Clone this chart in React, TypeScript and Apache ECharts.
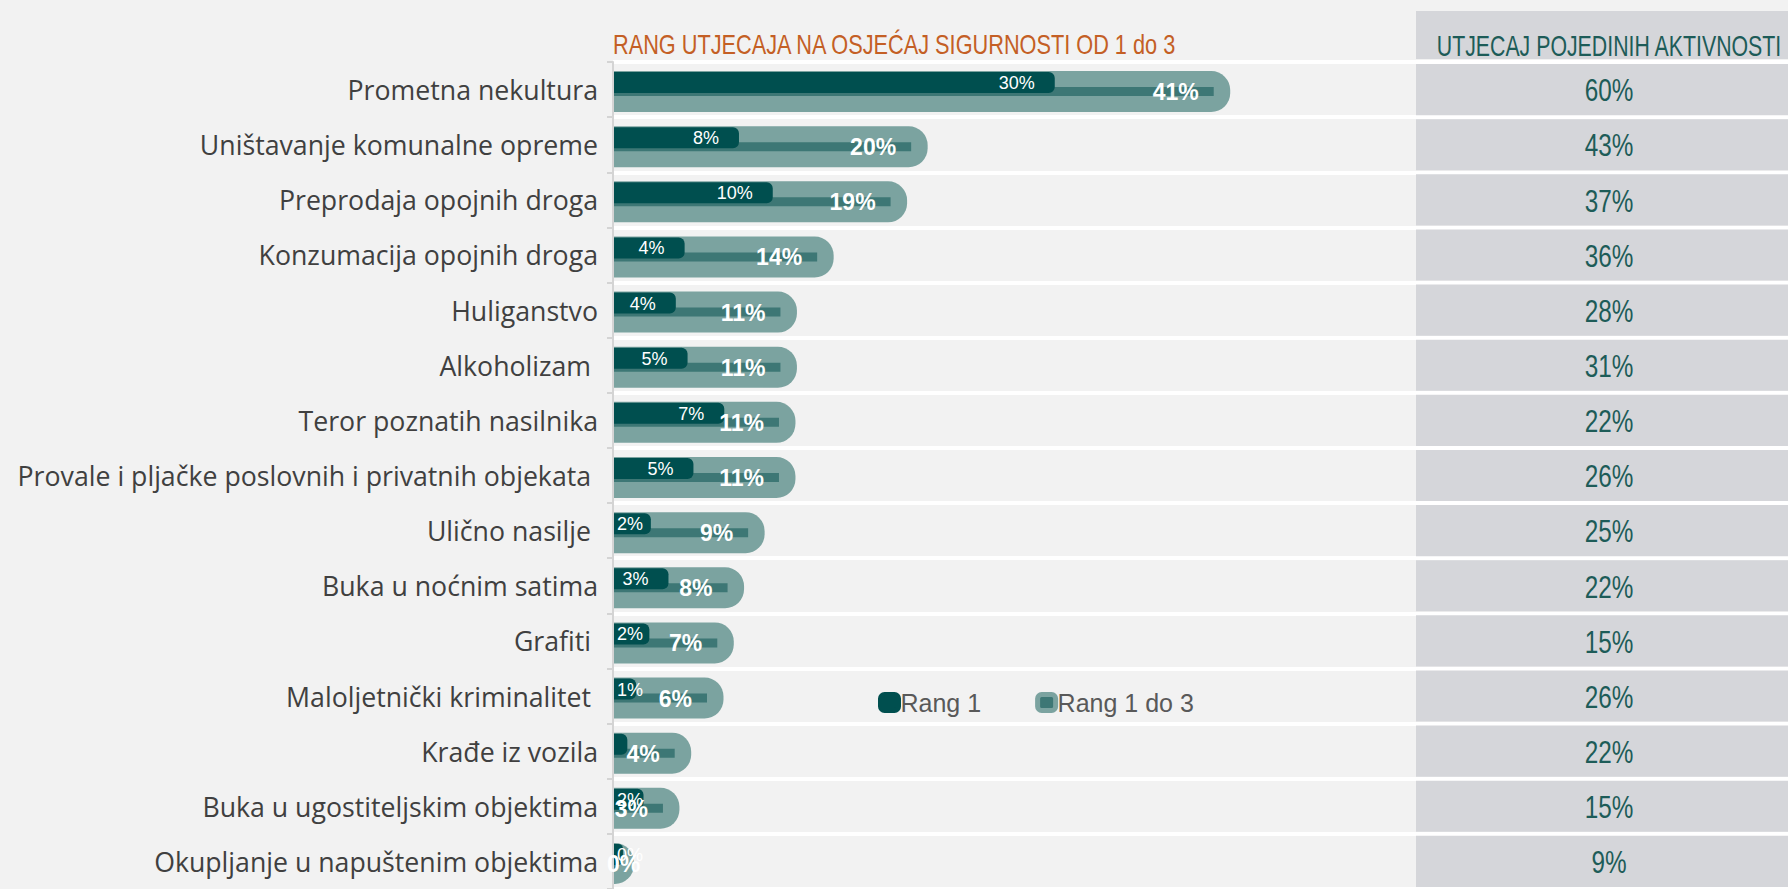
import React, { useEffect, useRef } from 'react';
import * as echarts from 'echarts';

// ---- data ----
const categories = [
  'Prometna nekultura',
  'Uništavanje komunalne opreme',
  'Preprodaja opojnih droga',
  'Konzumacija opojnih droga',
  'Huliganstvo',
  'Alkoholizam ',
  'Teror poznatih nasilnika',
  'Provale i pljačke poslovnih i privatnih objekata ',
  'Ulično nasilje ',
  'Buka u noćnim satima',
  'Grafiti ',
  'Maloljetnički kriminalitet ',
  'Krađe iz vozila',
  'Buka u ugostiteljskim objektima',
  'Okupljanje u napuštenim objektima',
];
// "Rang 1" share (%)
const rang1 = [29.6, 8.1, 10.4, 4.4, 3.8, 4.6, 7.1, 5.0, 2.1, 3.3, 2.0, 1.1, 0.5, 1.6, 0.2];
// "Rang 1 do 3" share (%)
const rang13 = [40.9, 20.3, 18.9, 13.9, 11.4, 11.4, 11.3, 11.3, 9.2, 7.8, 7.1, 6.4, 4.2, 3.4, 0.3];
// "Utjecaj pojedinih aktivnosti" (%)
const utjecaj = [60, 43, 37, 36, 28, 31, 22, 26, 25, 22, 15, 26, 22, 15, 9];
// categories whose Rang 1 label is not shown in the original
const rang1HiddenLabels = ['Krađe iz vozila'];

const titleLeft = 'RANG UTJECAJA NA OSJEĆAJ SIGURNOSTI OD 1 do 3';
const titleRight = 'UTJECAJ POJEDINIH AKTIVNOSTI';

// ---- styles ----
const DARK = '#004f4f';
const MID = '#3d7775';
const LIGHT = '#7ba3a0';
const BOX = '#d5d6da';
const BG = '#f2f2f2';
const ARIAL = "'Liberation Sans', Arial, sans-serif";
const LABEL_FONT = "'Open Sans', 'Noto Sans', sans-serif";

let measureCtx: CanvasRenderingContext2D | null = null;
function textWidth(t: string, font: string): number {
  if (!measureCtx) measureCtx = document.createElement('canvas').getContext('2d');
  if (!measureCtx) return t.length * 10;
  measureCtx.font = font;
  return measureCtx.measureText(t).width;
}

function buildOption(): any {
  const rowCount = categories.length;
  const bandH = 55.5;
  const gridTop = 62;
  const gridHeight = rowCount * bandH;

  return {
    animation: false,
    backgroundColor: BG,
    grid: [
      { left: 613, right: 0, top: gridTop, height: gridHeight },
      { left: 1416, right: 0, top: gridTop, height: gridHeight },
    ],
    xAxis: [
      { type: 'value', gridIndex: 0, min: 0, max: 80, show: false },
      { type: 'value', gridIndex: 1, min: 0, max: 1, show: false },
    ],
    yAxis: [
      {
        type: 'category',
        gridIndex: 0,
        inverse: true,
        data: categories,
        axisLine: { show: true, lineStyle: { color: '#d4d4d4', width: 2 } },
        axisTick: { show: true, length: 6, lineStyle: { color: '#d4d4d4', width: 2 } },
        splitLine: { show: true, lineStyle: { color: '#ffffff', width: 4 } },
        axisLabel: {
          margin: 15,
          fontSize: 26.7,
          color: '#404040',
          fontFamily: LABEL_FONT,
          padding: [8, 0, 0, 0],
        },
      },
      {
        type: 'category',
        gridIndex: 1,
        inverse: true,
        data: categories,
        show: false,
      },
    ],
    legend: {
      left: 878,
      top: 690,
      padding: 0,
      itemWidth: 18,
      itemHeight: 16,
      itemGap: 54,
      icon: 'roundRect',
      textStyle: { fontSize: 25, lineHeight: 25, color: '#595959', fontFamily: ARIAL, padding: [0, 0, 0, -3] },
      data: [
        { name: 'Rang 1', icon: 'roundRect', itemStyle: { color: DARK, borderColor: DARK, borderWidth: 5 } },
        { name: 'Rang 1 do 3', icon: 'roundRect', itemStyle: { color: MID, borderColor: LIGHT, borderWidth: 5 } },
      ],
    },
    graphic: [
      {
        type: 'text',
        x: 613,
        y: 45,
        scaleX: 0.79,
        style: {
          text: titleLeft,
          fill: '#c45f25',
          fontSize: 27.5,
          fontFamily: ARIAL,
          align: 'left',
          verticalAlign: 'middle',
        },
      },
      {
        type: 'rect',
        shape: { x: 1416, y: 11, width: 372, height: 48 },
        style: { fill: BOX },
      },
      {
        type: 'text',
        x: 1609,
        y: 46,
        scaleX: 0.735,
        style: {
          text: titleRight,
          fill: '#1d5c58',
          fontSize: 29,
          fontFamily: ARIAL,
          align: 'center',
          verticalAlign: 'middle',
        },
      },
    ],
    series: [
      {
        name: 'Rang 1 do 3',
        type: 'custom',
        xAxisIndex: 0,
        yAxisIndex: 0,
        z: 2,
        itemStyle: { color: LIGHT },
        encode: { x: 0, y: 1 },
        data: rang13.map((v, i) => [v, i]),
        renderItem: (params: any, api: any) => {
          const v = api.value(0);
          const i = api.value(1);
          const o = api.coord([0, i]);
          const e = api.coord([v, i]);
          const cy = o[1] + 2;
          const x0 = o[0] + 1;
          const xe = e[0];
          return {
            type: 'group',
            children: [
              {
                type: 'rect',
                shape: { x: x0, y: cy - 20.5, width: xe + 16.5 - x0, height: 41, r: [0, 19, 19, 0] },
                style: { fill: LIGHT },
              },
              {
                type: 'rect',
                shape: { x: x0, y: cy - 4.5, width: Math.max(0, xe - x0), height: 9 },
                style: { fill: MID },
              },
            ],
          };
        },
      },
      {
        name: 'Rang 1',
        type: 'custom',
        xAxisIndex: 0,
        yAxisIndex: 0,
        z: 3,
        itemStyle: { color: DARK },
        encode: { x: 0, y: 1 },
        data: rang1.map((v, i) => [v, i]),
        renderItem: (params: any, api: any) => {
          const v = api.value(0);
          const i = api.value(1);
          const o = api.coord([0, i]);
          const e = api.coord([v, i]);
          const cy = o[1] + 2;
          const x0 = o[0] + 1;
          const darkEnd = e[0] + 7;
          const w = Math.max(0, darkEnd - x0);
          const rr = Math.min(6, w / 2);
          const hidden = rang1HiddenLabels.indexOf(categories[i]) >= 0;
          const text = hidden ? '' : Math.round(v) + '%';
          const tw = textWidth(text, "18px 'Liberation Sans', Arial, sans-serif");
          let right = darkEnd - 20;
          if (right - tw < x0 + 3) right = x0 + 3 + tw;
          return {
            type: 'group',
            children: [
              {
                type: 'rect',
                shape: { x: x0, y: cy - 19.5, width: w, height: 21, r: [0, rr, rr, 0] },
                style: { fill: DARK },
              },
              {
                type: 'text',
                x: right,
                y: cy - 8.5,
                style: {
                  text,
                  fill: '#ffffff',
                  fontSize: 18,
                  fontFamily: ARIAL,
                  align: 'right',
                  verticalAlign: 'middle',
                },
              },
            ],
          };
        },
      },
      {
        name: 'Rang 1 do 3',
        type: 'custom',
        xAxisIndex: 0,
        yAxisIndex: 0,
        z: 4,
        itemStyle: { color: LIGHT },
        encode: { x: 0, y: 1 },
        data: rang13.map((v, i) => [v, i]),
        renderItem: (params: any, api: any) => {
          const v = api.value(0);
          const i = api.value(1);
          const o = api.coord([0, i]);
          const e = api.coord([v, i]);
          const cy = o[1] + 2;
          const text = Math.round(v) + '%';
          const tw = textWidth(text, "bold 23px 'Liberation Sans', Arial, sans-serif");
          let right = e[0] - 15;
          if (right - tw < o[0] - 6) right = o[0] - 6 + tw;
          return {
            type: 'text',
            x: right,
            y: cy + 0.5,
            style: {
              text,
              fill: '#ffffff',
              fontSize: 23,
              fontWeight: 'bold',
              fontFamily: ARIAL,
              align: 'right',
              verticalAlign: 'middle',
            },
          };
        },
      },
      {
        name: 'Utjecaj',
        type: 'custom',
        xAxisIndex: 1,
        yAxisIndex: 1,
        z: 2,
        encode: { x: 1, y: 0 },
        data: utjecaj.map((v, i) => [i, v]),
        renderItem: (params: any, api: any) => {
          const i = api.value(0);
          const v = api.value(1);
          const a = api.coord([0, i]);
          const b = api.coord([1, i]);
          const h = api.size([0, 1])[1];
          return {
            type: 'group',
            children: [
              {
                type: 'rect',
                shape: { x: a[0], y: a[1] - h / 2 + 2, width: b[0] - a[0], height: h - 4 },
                style: { fill: BOX },
              },
              {
                type: 'text',
                x: (a[0] + b[0]) / 2 + 7,
                y: a[1] + 0.5,
                scaleX: 0.76,
                style: {
                  text: v + '%',
                  fill: '#1d5c58',
                  fontSize: 32,
                  fontFamily: ARIAL,
                  align: 'center',
                  verticalAlign: 'middle',
                },
              },
            ],
          };
        },
      },
    ],
  };
}

export default function App() {
  const ref = useRef<HTMLDivElement>(null);
  useEffect(() => {
    if (!ref.current) return;
    const chart = echarts.init(ref.current, null, { renderer: 'svg' });
    chart.setOption(buildOption());
    return () => {
      chart.dispose();
    };
  }, []);
  return (
    <div
      ref={ref}
      style={{ position: 'absolute', left: 0, top: 0, width: 1788, height: 889 }}
    />
  );
}
